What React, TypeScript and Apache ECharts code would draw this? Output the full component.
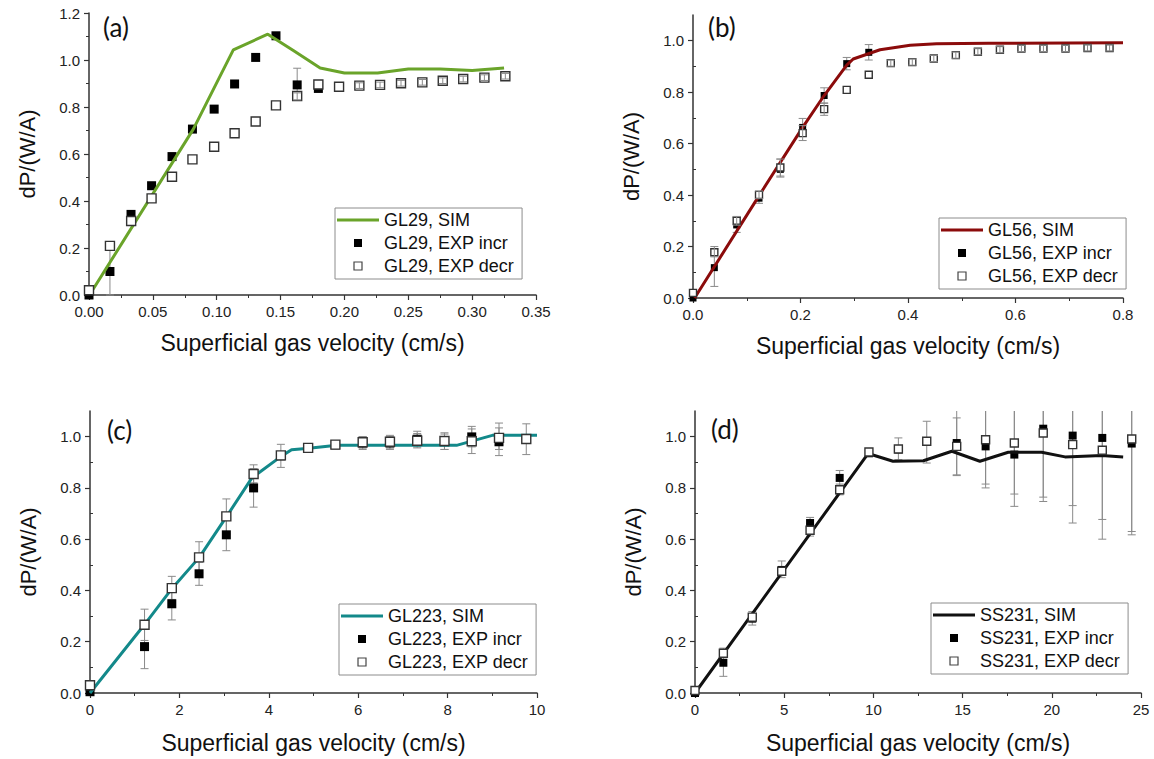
import React, { useEffect, useRef } from 'react';
import * as echarts from 'echarts';

type P = [number, number];
type E = [number, number, number];

const FONT = '"Liberation Sans", Arial, sans-serif';
const ERR_COLOR = '#8a8a8a';

// ---------- Panel (a) GL29 ----------
const aSim: P[] = [[0.001, 0.005], [0.0817, 0.706], [0.113, 1.043], [0.14, 1.11], [0.16, 1.04], [0.181, 0.966], [0.2, 0.945], [0.226, 0.945], [0.25, 0.962], [0.275, 0.962], [0.3, 0.955], [0.325, 0.966]];
const aIncr: P[] = [[0, 0], [0.0164, 0.10], [0.0329, 0.343], [0.049, 0.465], [0.065, 0.589], [0.081, 0.706], [0.098, 0.791], [0.114, 0.898], [0.1305, 1.011], [0.1464, 1.103], [0.163, 0.894], [0.1796, 0.879], [0.1958, 0.886], [0.2117, 0.891], [0.2279, 0.894], [0.2443, 0.901], [0.261, 0.905], [0.277, 0.912], [0.293, 0.919], [0.3096, 0.925], [0.326, 0.931]];
const aDecr: P[] = [[0, 0.02], [0.0164, 0.209], [0.033, 0.315], [0.049, 0.411], [0.065, 0.503], [0.081, 0.577], [0.098, 0.631], [0.114, 0.688], [0.1305, 0.738], [0.1464, 0.807], [0.163, 0.847], [0.1796, 0.896], [0.1958, 0.886], [0.2117, 0.891], [0.2279, 0.894], [0.2443, 0.901], [0.261, 0.905], [0.277, 0.912], [0.293, 0.919], [0.3096, 0.925], [0.326, 0.931]];
const aIncrErr: E[] = [[0.0164, 0.0, 0.2], [0.163, 0.83, 0.965]];
const aDecrErr: E[] = [[0.163, 0.83, 0.86], [0.2117, 0.879, 0.903], [0.2279, 0.882, 0.906], [0.2443, 0.889, 0.913], [0.261, 0.893, 0.917], [0.277, 0.9, 0.924], [0.293, 0.907, 0.931], [0.3096, 0.913, 0.937], [0.326, 0.919, 0.943]];

// ---------- Panel (b) GL56 ----------
const bSim: P[] = [[0.003, 0], [0.123, 0.398], [0.204, 0.663], [0.244, 0.787], [0.286, 0.905], [0.298, 0.929], [0.348, 0.965], [0.404, 0.982], [0.453, 0.988], [0.55, 0.99], [0.8, 0.992]];
const bIncr: P[] = [[0, 0], [0.0397, 0.118], [0.0813, 0.284], [0.1228, 0.388], [0.1625, 0.50], [0.204, 0.663], [0.244, 0.787], [0.286, 0.911], [0.327, 0.955]];
const bDecr: P[] = [[0, 0.02], [0.0397, 0.178], [0.0813, 0.30], [0.1228, 0.401], [0.1625, 0.507], [0.204, 0.641], [0.244, 0.734], [0.286, 0.809], [0.327, 0.868], [0.368, 0.913], [0.408, 0.917], [0.448, 0.931], [0.489, 0.944], [0.53, 0.957], [0.571, 0.965], [0.611, 0.97], [0.652, 0.97], [0.693, 0.97], [0.734, 0.972], [0.775, 0.972]];
const bIncrErr: E[] = [[0.0397, 0.045, 0.19], [0.0813, 0.255, 0.313], [0.1228, 0.368, 0.408], [0.1625, 0.47, 0.54], [0.204, 0.628, 0.698], [0.244, 0.757, 0.817], [0.286, 0.887, 0.935], [0.327, 0.925, 0.985]];
const bDecrErr: E[] = [[0.0397, 0.16, 0.2], [0.0813, 0.283, 0.317], [0.1228, 0.386, 0.416], [0.1625, 0.474, 0.54], [0.204, 0.612, 0.67], [0.244, 0.71, 0.758], [0.368, 0.901, 0.925], [0.408, 0.905, 0.929], [0.448, 0.919, 0.943], [0.489, 0.932, 0.956], [0.53, 0.945, 0.969], [0.571, 0.953, 0.977], [0.611, 0.958, 0.982], [0.652, 0.958, 0.982], [0.693, 0.958, 0.982], [0.734, 0.96, 0.984], [0.775, 0.96, 0.984]];

// ---------- Panel (c) GL223 ----------
const cSim: P[] = [[0, 0], [1.215, 0.266], [1.84, 0.409], [2.445, 0.529], [3.058, 0.689], [3.67, 0.852], [3.77, 0.858], [4.29, 0.925], [4.51, 0.949], [4.9, 0.955], [5.52, 0.966], [8.2, 0.966], [9.0, 1.005], [10, 1.005]];
const cIncr: P[] = [[0, 0.005], [1.22, 0.181], [1.83, 0.348], [2.44, 0.465], [3.05, 0.617], [3.66, 0.80], [4.27, 0.925], [4.88, 0.955], [5.49, 0.968], [6.10, 0.975], [6.71, 0.975], [7.32, 0.99], [7.93, 0.98], [8.54, 0.999], [9.15, 0.98]];
const cDecr: P[] = [[0, 0.03], [1.22, 0.266], [1.83, 0.409], [2.44, 0.529], [3.05, 0.689], [3.66, 0.854], [4.27, 0.927], [4.88, 0.956], [5.49, 0.969], [6.10, 0.978], [6.71, 0.98], [7.32, 0.984], [7.93, 0.983], [8.54, 0.982], [9.15, 0.995], [9.76, 0.991]];
const cIncrErr: E[] = [[1.22, 0.095, 0.267], [1.83, 0.285, 0.41], [2.44, 0.42, 0.51], [3.05, 0.555, 0.68], [3.66, 0.725, 0.875], [6.10, 0.95, 1.0], [6.71, 0.95, 1.0], [7.32, 0.96, 1.021], [7.93, 0.95, 1.01], [8.54, 0.96, 1.04], [9.15, 0.926, 1.034]];
const cDecrErr: E[] = [[1.22, 0.205, 0.327], [1.83, 0.365, 0.455], [2.44, 0.47, 0.59], [3.05, 0.62, 0.757], [3.66, 0.82, 0.89], [4.27, 0.88, 0.97], [6.10, 0.955, 1.0], [6.71, 0.955, 1.005], [7.32, 0.956, 1.012], [7.93, 0.95, 1.015], [8.54, 0.934, 1.03], [9.15, 0.95, 1.053], [9.76, 0.93, 1.05]];

// ---------- Panel (d) SS231 ----------
const dSim: P[] = [[0, 0], [9.7, 0.934], [11.1, 0.904], [12.8, 0.906], [14.4, 0.943], [15.97, 0.904], [17.56, 0.939], [19.43, 0.939], [20.74, 0.921], [22.8, 0.926], [24.0, 0.921]];
const dIncr: P[] = [[0, 0], [1.59, 0.118], [3.21, 0.29], [4.86, 0.48], [6.45, 0.663], [8.11, 0.839], [9.75, 0.935], [11.4, 0.95], [12.99, 0.98], [14.67, 0.975], [16.29, 0.962], [17.9, 0.93], [19.52, 1.031], [21.17, 1.004], [22.83, 0.995], [24.48, 0.973]];
const dDecr: P[] = [[0, 0.01], [1.59, 0.155], [3.21, 0.296], [4.86, 0.475], [6.45, 0.635], [8.11, 0.793], [9.75, 0.94], [11.4, 0.952], [12.99, 0.982], [14.67, 0.962], [16.29, 0.988], [17.9, 0.975], [19.52, 1.014], [21.17, 0.969], [22.83, 0.947], [24.48, 0.991]];
const dIncrErr: E[] = [[1.59, 0.065, 0.175], [6.45, 0.64, 0.685], [8.11, 0.81, 0.868], [14.67, 0.848, 1.102], [16.29, 0.815, 1.109], [17.9, 0.728, 1.132], [19.52, 0.747, 1.315], [21.17, 0.663, 1.345], [22.83, 0.60, 1.39], [24.48, 0.63, 1.316]];
const dDecrErr: E[] = [[1.59, 0.14, 0.17], [3.21, 0.265, 0.318], [4.86, 0.45, 0.515], [6.45, 0.612, 0.66], [8.11, 0.773, 0.815], [11.4, 0.91, 0.995], [12.99, 0.897, 1.06], [14.67, 0.851, 1.073], [16.29, 0.80, 1.176], [17.9, 0.776, 1.174], [19.52, 0.764, 1.264], [21.17, 0.731, 1.207], [22.83, 0.677, 1.217], [24.48, 0.617, 1.365]];

// ---------- Axes / labels ----------
const xMax = [0.35, 0.8, 10, 25];
const xInterval = [0.05, 0.2, 2, 5];
const xDigits = [2, 1, 0, 0];
const yMax = [1.2, 1.1, 1.1, 1.1];
const yMajorTicks = [0, 0.2, 0.4, 0.6, 0.8, 1.0];
const yMinorTicks = [0.1, 0.3, 0.5, 0.7, 0.9];
const panelTags = ['(a)', '(b)', '(c)', '(d)'];
const sampleNames = ['GL29', 'GL56', 'GL223', 'SS231'];
const simColors = ['#6aa42a', '#8b0b0b', '#13898a', '#111111'];
const X_NAME = 'Superficial gas velocity (cm/s)';
const Y_NAME = 'dP/(W/A)';

// layout (page pixels)
const grids = [
  { left: 89, top: 13, width: 447, height: 282 },
  { left: 693, top: 15, width: 430, height: 283 },
  { left: 90, top: 411, width: 447, height: 282 },
  { left: 695, top: 411, width: 446, height: 282 },
];
const legendPos = [
  { left: 335, top: 208 },
  { left: 939, top: 218 },
  { left: 339, top: 604 },
  { left: 931, top: 603 },
];
const tagPos = [[103, 27], [708, 27], [107, 430], [711, 429]];
const markerSize = [9, 7, 9, 8];
const xNameGap = [36, 36, 38, 38];

const SQUARE_ICON = 'path://M0 0H10V10H0Z';
const LINE_ICON = 'path://M0 0H140V10H0Z';

function errorBars(data: E[], idx: number, yTop: number, z: number) {
  const cap = 4;
  return {
    type: 'custom',
    xAxisIndex: idx,
    yAxisIndex: idx,
    z,
    silent: true,
    data,
    encode: { x: 0, y: [1, 2] },
    renderItem: (_params: any, api: any) => {
      const x = api.value(0);
      const lo = api.value(1);
      let hi = api.value(2);
      const clipped = hi > yTop;
      if (clipped) hi = yTop;
      const a = api.coord([x, lo]);
      const b = api.coord([x, hi]);
      const st = { stroke: ERR_COLOR, lineWidth: 1 };
      const ch: any[] = [
        { type: 'line', shape: { x1: a[0], y1: a[1], x2: b[0], y2: b[1] }, style: st },
        { type: 'line', shape: { x1: a[0] - cap, y1: a[1], x2: a[0] + cap, y2: a[1] }, style: st },
      ];
      if (!clipped) ch.push({ type: 'line', shape: { x1: b[0] - cap, y1: b[1], x2: b[0] + cap, y2: b[1] }, style: st });
      return { type: 'group', children: ch };
    },
  };
}

const panels = [
  { sim: aSim, incr: aIncr, decr: aDecr, incrErr: aIncrErr, decrErr: aDecrErr, decrErrZ: 6 },
  { sim: bSim, incr: bIncr, decr: bDecr, incrErr: bIncrErr, decrErr: bDecrErr, decrErrZ: 6 },
  { sim: cSim, incr: cIncr, decr: cDecr, incrErr: cIncrErr, decrErr: cDecrErr, decrErrZ: 1 },
  { sim: dSim, incr: dIncr, decr: dDecr, incrErr: dIncrErr, decrErr: dDecrErr, decrErrZ: 1 },
];

function buildOption() {
  const axisColor = '#333';
  const xAxis = grids.map((_, i) => ({
    type: 'value',
    gridIndex: i,
    min: 0,
    max: xMax[i],
    interval: xInterval[i],
    name: X_NAME,
    nameLocation: 'middle',
    nameGap: xNameGap[i],
    nameTextStyle: { fontSize: 23, fontFamily: FONT, color: '#111' },
    axisLine: { show: true, onZero: false, lineStyle: { color: axisColor, width: 1.5 } },
    axisTick: { show: true, inside: false, length: 5, lineStyle: { color: axisColor, width: 1.2 } },
    minorTick: { show: true, splitNumber: 2, length: 3, lineStyle: { color: axisColor, width: 1 } },
    axisLabel: { fontSize: 15, fontFamily: FONT, color: '#222', margin: 9, formatter: (v: number) => v.toFixed(xDigits[i]) },
    splitLine: { show: false },
    minorSplitLine: { show: false },
  }));

  const yAxis: any[] = grids.map((_, i) => {
    const base: any = {
      type: 'value',
      gridIndex: i,
      min: 0,
      max: yMax[i],
      name: Y_NAME,
      nameLocation: 'middle',
      nameGap: 51,
      nameTextStyle: { fontSize: 22, fontFamily: FONT, color: '#111' },
      axisLine: { show: true, onZero: false, lineStyle: { color: axisColor, width: 1.5 } },
      splitLine: { show: false },
      minorSplitLine: { show: false },
    };
    if (i === 0) {
      base.interval = 0.2;
      base.axisTick = { show: true, inside: false, length: 5, lineStyle: { color: axisColor, width: 1.2 } };
      base.minorTick = { show: true, splitNumber: 2, length: 3, lineStyle: { color: axisColor, width: 1 } };
      base.axisLabel = { fontSize: 15, fontFamily: FONT, color: '#222', margin: 9, formatter: (v: number) => v.toFixed(1) };
    } else {
      base.interval = 0.1;
      base.axisTick = { show: true, inside: false, length: 5, customValues: yMajorTicks, lineStyle: { color: axisColor, width: 1.2 } };
      base.axisLabel = { fontSize: 15, fontFamily: FONT, color: '#222', margin: 9, customValues: yMajorTicks, formatter: (v: number) => v.toFixed(1) };
    }
    return base;
  });
  // minor tick overlay axes for panels b, c, d
  for (let i = 1; i < 4; i++) {
    yAxis.push({
      type: 'value',
      gridIndex: i,
      min: 0,
      max: yMax[i],
      interval: 0.1,
      axisLine: { show: false },
      axisLabel: { show: false },
      axisTick: { show: true, inside: false, length: 3, customValues: yMinorTicks, lineStyle: { color: axisColor, width: 1 } },
      splitLine: { show: false },
    });
  }

  const series: any[] = [];
  const legends: any[] = [];
  panels.forEach((p, i) => {
    const nm = sampleNames[i];
    const simName = `${nm}, SIM`;
    const incrName = `${nm}, EXP incr`;
    const decrName = `${nm}, EXP decr`;
    series.push(errorBars(p.incrErr, i, yMax[i], 1));
    series.push({
      type: 'scatter', name: incrName, xAxisIndex: i, yAxisIndex: i, z: 2,
      symbol: 'rect', symbolSize: markerSize[i], data: p.incr,
      itemStyle: { color: '#000', borderColor: '#000', borderWidth: 0, opacity: 1 },
    });
    series.push({
      type: 'line', name: simName, xAxisIndex: i, yAxisIndex: i, z: 3,
      symbol: 'none', showSymbol: false, data: p.sim,
      lineStyle: { color: simColors[i], width: 3 }, itemStyle: { color: simColors[i] },
    });
    series.push({
      type: 'scatter', name: decrName, xAxisIndex: i, yAxisIndex: i, z: 4,
      symbol: 'rect', symbolSize: markerSize[i], data: p.decr,
      itemStyle: { color: '#fff', borderColor: '#333', borderWidth: 1.4, opacity: 1 },
    });
    series.push(errorBars(p.decrErr, i, yMax[i], p.decrErrZ));
    legends.push({
      left: legendPos[i].left,
      top: legendPos[i].top,
      orient: 'vertical',
      data: [
        { name: simName, icon: LINE_ICON, itemStyle: { color: simColors[i], borderWidth: 0 } },
        { name: incrName, icon: SQUARE_ICON, itemStyle: { color: '#000', borderWidth: 0 } },
        { name: decrName, icon: SQUARE_ICON, itemStyle: { color: '#fff', borderColor: '#444', borderWidth: 1.2 } },
      ],
      itemWidth: 42,
      itemHeight: 8,
      itemGap: 3,
      symbolKeepAspect: true,
      padding: [2, 8, 3, 2],
      borderColor: '#8c8c8c',
      borderWidth: 1,
      selectedMode: false,
      textStyle: { fontSize: 18, fontFamily: FONT, color: '#111', lineHeight: 20 },
    });
  });

  const graphic = panelTags.map((t, i) => ({
    type: 'text',
    x: tagPos[i][0],
    y: tagPos[i][1],
    style: { text: t, fontSize: 26, fontFamily: 'Lato, "Open Sans", sans-serif', fill: '#111', verticalAlign: 'middle', align: 'left' },
  }));

  return {
    animation: false,
    backgroundColor: '#ffffff',
    grid: grids.map((g) => ({ ...g, containLabel: false })),
    xAxis,
    yAxis,
    legend: legends,
    series,
    graphic,
  };
}

export default function App() {
  const ref = useRef<HTMLDivElement | null>(null);
  useEffect(() => {
    if (!ref.current) return;
    const chart = echarts.init(ref.current, undefined, { renderer: 'svg' });
    chart.setOption(buildOption() as any);
    return () => chart.dispose();
  }, []);
  return (
    <div
      ref={ref}
      style={{ position: 'fixed', left: 0, top: 0, width: 1154, height: 759, background: '#fff' }}
    />
  );
}
